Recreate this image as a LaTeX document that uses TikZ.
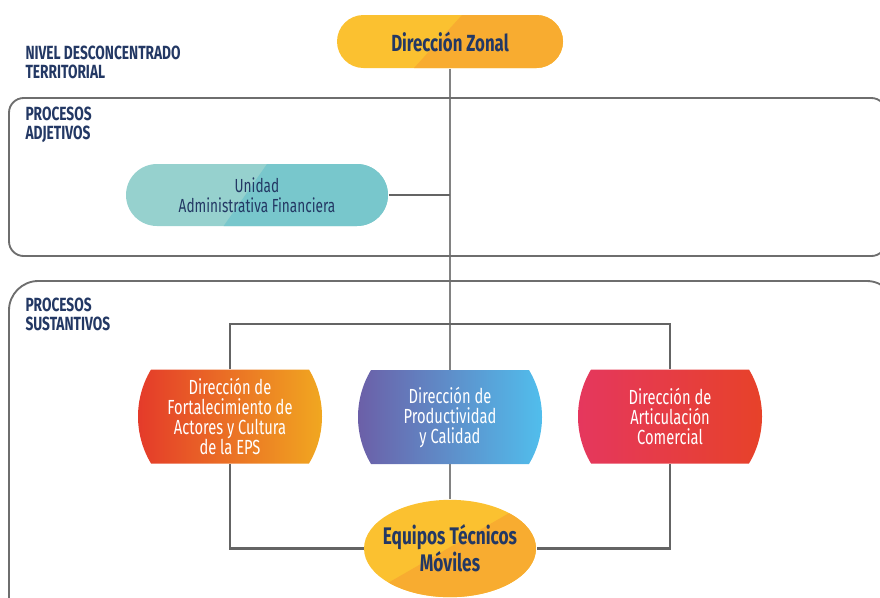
\documentclass[tikz,border=0pt]{standalone}
\usepackage{fontspec}
\setmainfont{Fira Sans}[FakeStretch=0.72]
\usetikzlibrary{shapes.misc,shapes.geometric,backgrounds}

\definecolor{navy}{RGB}{35,56,100}
\definecolor{zonalA}{RGB}{251,193,48}
\definecolor{zonalB}{RGB}{248,172,48}
\definecolor{tealA}{RGB}{150,209,206}
\definecolor{tealB}{RGB}{120,199,204}
\definecolor{fortA}{RGB}{228,56,42}
\definecolor{fortB}{RGB}{241,170,32}
\definecolor{prodA}{RGB}{108,93,166}
\definecolor{prodB}{RGB}{80,192,238}
\definecolor{articA}{RGB}{229,55,95}
\definecolor{articB}{RGB}{231,66,40}
\definecolor{framegray}{RGB}{110,110,110}
\definecolor{linkgray}{RGB}{100,100,100}
\definecolor{thingray}{RGB}{130,130,130}

\tikzset{every picture/.style={line width=0.75pt}}
\tikzset{
  heading/.style={anchor=north west, inner sep=0pt, align=left, text=navy, font=\bfseries\fontsize{14.3}{14.5}\selectfont},
  frame/.style={draw=framegray, line width=1.4pt},
  pill/.style={rounded rectangle, align=center, inner sep=0pt},
  barrel/.style={rounded rectangle, rounded rectangle arc length=62, align=center, inner sep=0pt, text=white, font=\fontsize{15.3}{15}\selectfont, minimum width=138pt, minimum height=70.5pt},
  splitfill/.style n args={4}{fill=#1, path picture={\fill[#2] ([xshift=#3]path picture bounding box.north) -- (path picture bounding box.north east) -- (path picture bounding box.south east) -- ([xshift=#4]path picture bounding box.south) -- cycle;}},
  link/.style={draw=linkgray, line width=2.2pt},
  spine/.style={draw=thingray, line width=0.8pt}
}

\begin{document}
\begin{tikzpicture}[x=0.75pt,y=0.75pt,yscale=-1,xscale=1]
\useasboundingbox (0,0) rectangle (880,597);
\clip (0,0) rectangle (880,597);

%Shape: Rounded Rectangle [id:frame adjetivos]
\draw[frame, rounded corners=11pt] (9,98) rectangle (886,256);
%Shape: Rounded Rectangle [id:frame sustantivos]
\draw[frame, rounded corners=22pt] (9,281) rectangle (896,640);

% Text Node
\node[heading] (nivel) at (25,45) {NIVEL DESCONCENTRADO\\TERRITORIAL};
% Text Node
\node[heading] (adjetivos) at (25,106) {PROCESOS\\ADJETIVOS};
% Text Node
\node[heading] (sustantivos) at (25,297) {PROCESOS\\SUSTANTIVOS};

%Shape: Pill [id:zonal]
\node[pill, splitfill={zonalA}{zonalB}{9pt}{-27pt}, minimum width=169.5pt, minimum height=39.75pt, text=navy, font=\bfseries\fontsize{17.5}{18}\selectfont] (zonal) at (450,41.5) {Dirección Zonal};
%Shape: Pill [id:unidad]
\node[pill, splitfill={tealA}{tealB}{7.5pt}{-25pt}, minimum width=196.5pt, minimum height=46.5pt, text=navy, font=\fontsize{14.2}{15}\selectfont] (unidad) at (257,195) {Unidad\\Administrativa Financiera};

%Shape: Barrel [id:fort]
\node[barrel, left color=fortA, right color=fortB] (fort) at (230,416.5) {Dirección de\\Fortalecimiento de\\Actores y Cultura\\de la EPS};
%Shape: Barrel [id:prod]
\node[barrel, left color=prodA, right color=prodB] (prod) at (450,417) {Dirección de\\Productividad\\y Calidad};
%Shape: Barrel [id:artic]
\node[barrel, left color=articA, right color=articB] (artic) at (670,416.5) {Dirección de\\Articulación\\Comercial};

%Shape: Ellipse [id:equipos]
\node[ellipse, inner xsep=-5pt, inner ysep=0pt, splitfill={zonalA}{zonalB}{61.5pt}{-65pt}, minimum width=129pt, minimum height=73pt, align=center, text=navy, font=\bfseries\fontsize{18}{16}\selectfont] (equipos) at (450,548.5) {Equipos Técnicos\\Móviles};

\coordinate (bracket) at (450,324);

\begin{pgfonlayer}{background}
%Straight Lines [id:spine]
\draw[spine] (zonal.south) -- (equipos.north);
%Straight Lines [id:unidad link]
\draw[link] (unidad.east) -- (unidad.east -| zonal.south);
%Straight Lines [id:bracket top]
\draw[link] (fort.north) |- (bracket) -| (artic.north);
%Straight Lines [id:bracket bottom]
\draw[link] (fort.south) |- (equipos.west);
\draw[link] (artic.south) |- (equipos.east);
\end{pgfonlayer}

\end{tikzpicture}
\end{document}
